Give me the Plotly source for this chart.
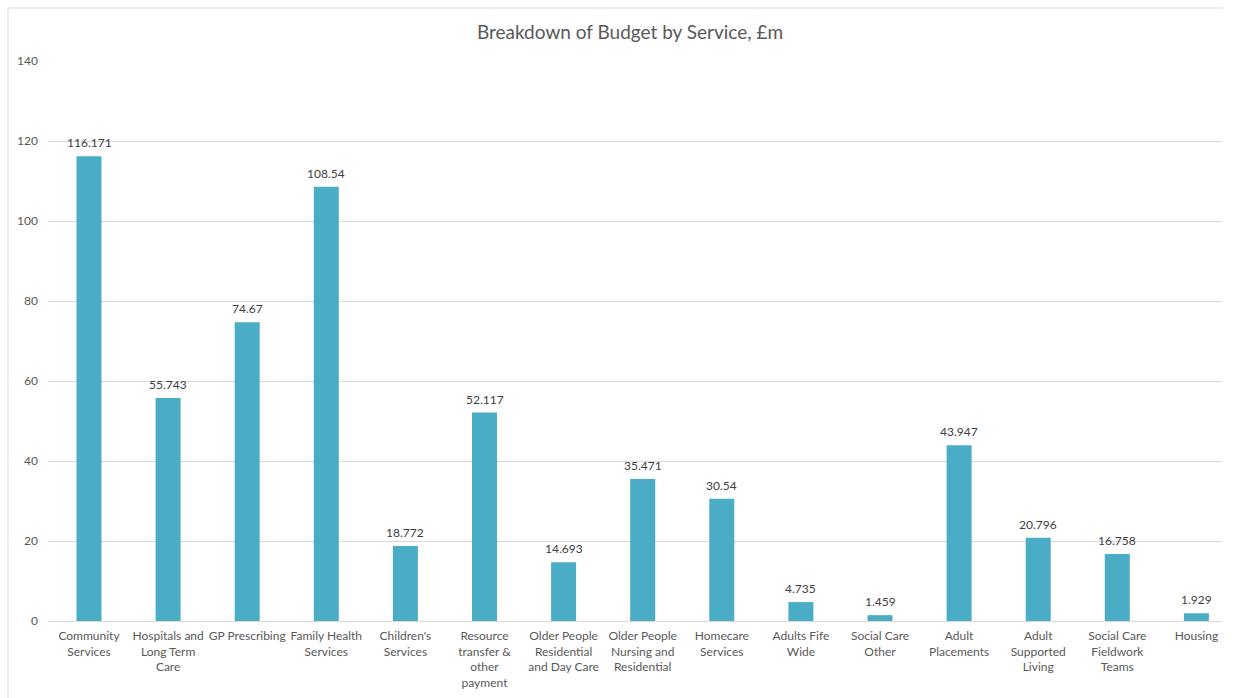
import plotly.graph_objects as go

categories = [
    "Community<br>Services",
    "Hospitals and<br>Long Term<br>Care",
    "GP Prescribing",
    "Family Health<br>Services",
    "Children's<br>Services",
    "Resource<br>transfer &<br>other<br>payment",
    "Older People<br>Residential<br>and Day Care",
    "Older People<br>Nursing and<br>Residential",
    "Homecare<br>Services",
    "Adults Fife<br>Wide",
    "Social Care<br>Other",
    "Adult<br>Placements",
    "Adult<br>Supported<br>Living",
    "Social Care<br>Fieldwork<br>Teams",
    "Housing",
]
values = [116.171, 55.743, 74.67, 108.54, 18.772, 52.117, 14.693, 35.471,
          30.54, 4.735, 1.459, 43.947, 20.796, 16.758, 1.929]
labels = ["116.171", "55.743", "74.67", "108.54", "18.772", "52.117", "14.693",
          "35.471", "30.54", "4.735", "1.459", "43.947", "20.796", "16.758", "1.929"]
y_ticks = [0, 20, 40, 60, 80, 100, 120, 140]

FONT = "Lato, Open Sans, sans-serif"
GREY = "#595959"

L, R, T, B = 48, 13, 61, 77
W, H = 1235, 698
pw = W - L - R
ph = H - T - B

# category spacing ~79.1 px, first category centre at x=89
step = 79.1
x0 = -(89 - L) / step
x1 = x0 + pw / step

xs = list(range(len(categories)))

fig = go.Figure(go.Bar(
    x=xs,
    y=values,
    width=0.316,
    marker=dict(color="#4BACC6", line=dict(width=0)),
    hovertemplate="%{y}<extra></extra>",
))

for xi, v, t in zip(xs, values, labels):
    fig.add_annotation(x=xi, y=v, text=t, showarrow=False,
                       xanchor="center", yanchor="bottom", yshift=4,
                       font=dict(size=12, color="#404040", family=FONT))

fig.update_layout(
    width=W, height=H,
    margin=dict(l=L, r=R, t=T, b=B, autoexpand=False),
    paper_bgcolor="white", plot_bgcolor="white",
    showlegend=False,
    title=dict(text="Breakdown of Budget by Service, £m",
               xref="paper", x=(630 - L) / pw, xanchor="center",
               y=1 - 32 / H, yanchor="middle",
               font=dict(size=19, color=GREY, family=FONT)),
    xaxis=dict(
        tickmode="array", tickvals=xs, ticktext=categories,
        tickangle=0, showgrid=False, zeroline=False, showline=False, ticks="",
        ticklabelstandoff=6, automargin=False,
        tickfont=dict(size=12, color=GREY, family=FONT),
        range=[x0, x1],
    ),
    yaxis=dict(
        range=[0, 140], tickvals=y_ticks, showgrid=True, gridcolor="#D9D9D9",
        gridwidth=1, zeroline=True, zerolinecolor="#D9D9D9", zerolinewidth=1,
        showline=False, ticks="", ticklabelstandoff=9, automargin=False,
        tickfont=dict(size=12, color=GREY, family=FONT),
    ),
    shapes=[
        dict(type="line", xref="paper", yref="paper",
             x0=(8 - L) / pw, x1=(1223 - L) / pw,
             y0=(H - B - 8) / ph, y1=(H - B - 8) / ph,
             line=dict(color="#D9D9D9", width=1)),
        dict(type="line", xref="paper", yref="paper",
             x0=(8 - L) / pw, x1=(8 - L) / pw,
             y0=(H - B - 8) / ph, y1=(H - B - 700) / ph,
             line=dict(color="#D9D9D9", width=1)),
    ],
)

fig.write_html("out.html")
